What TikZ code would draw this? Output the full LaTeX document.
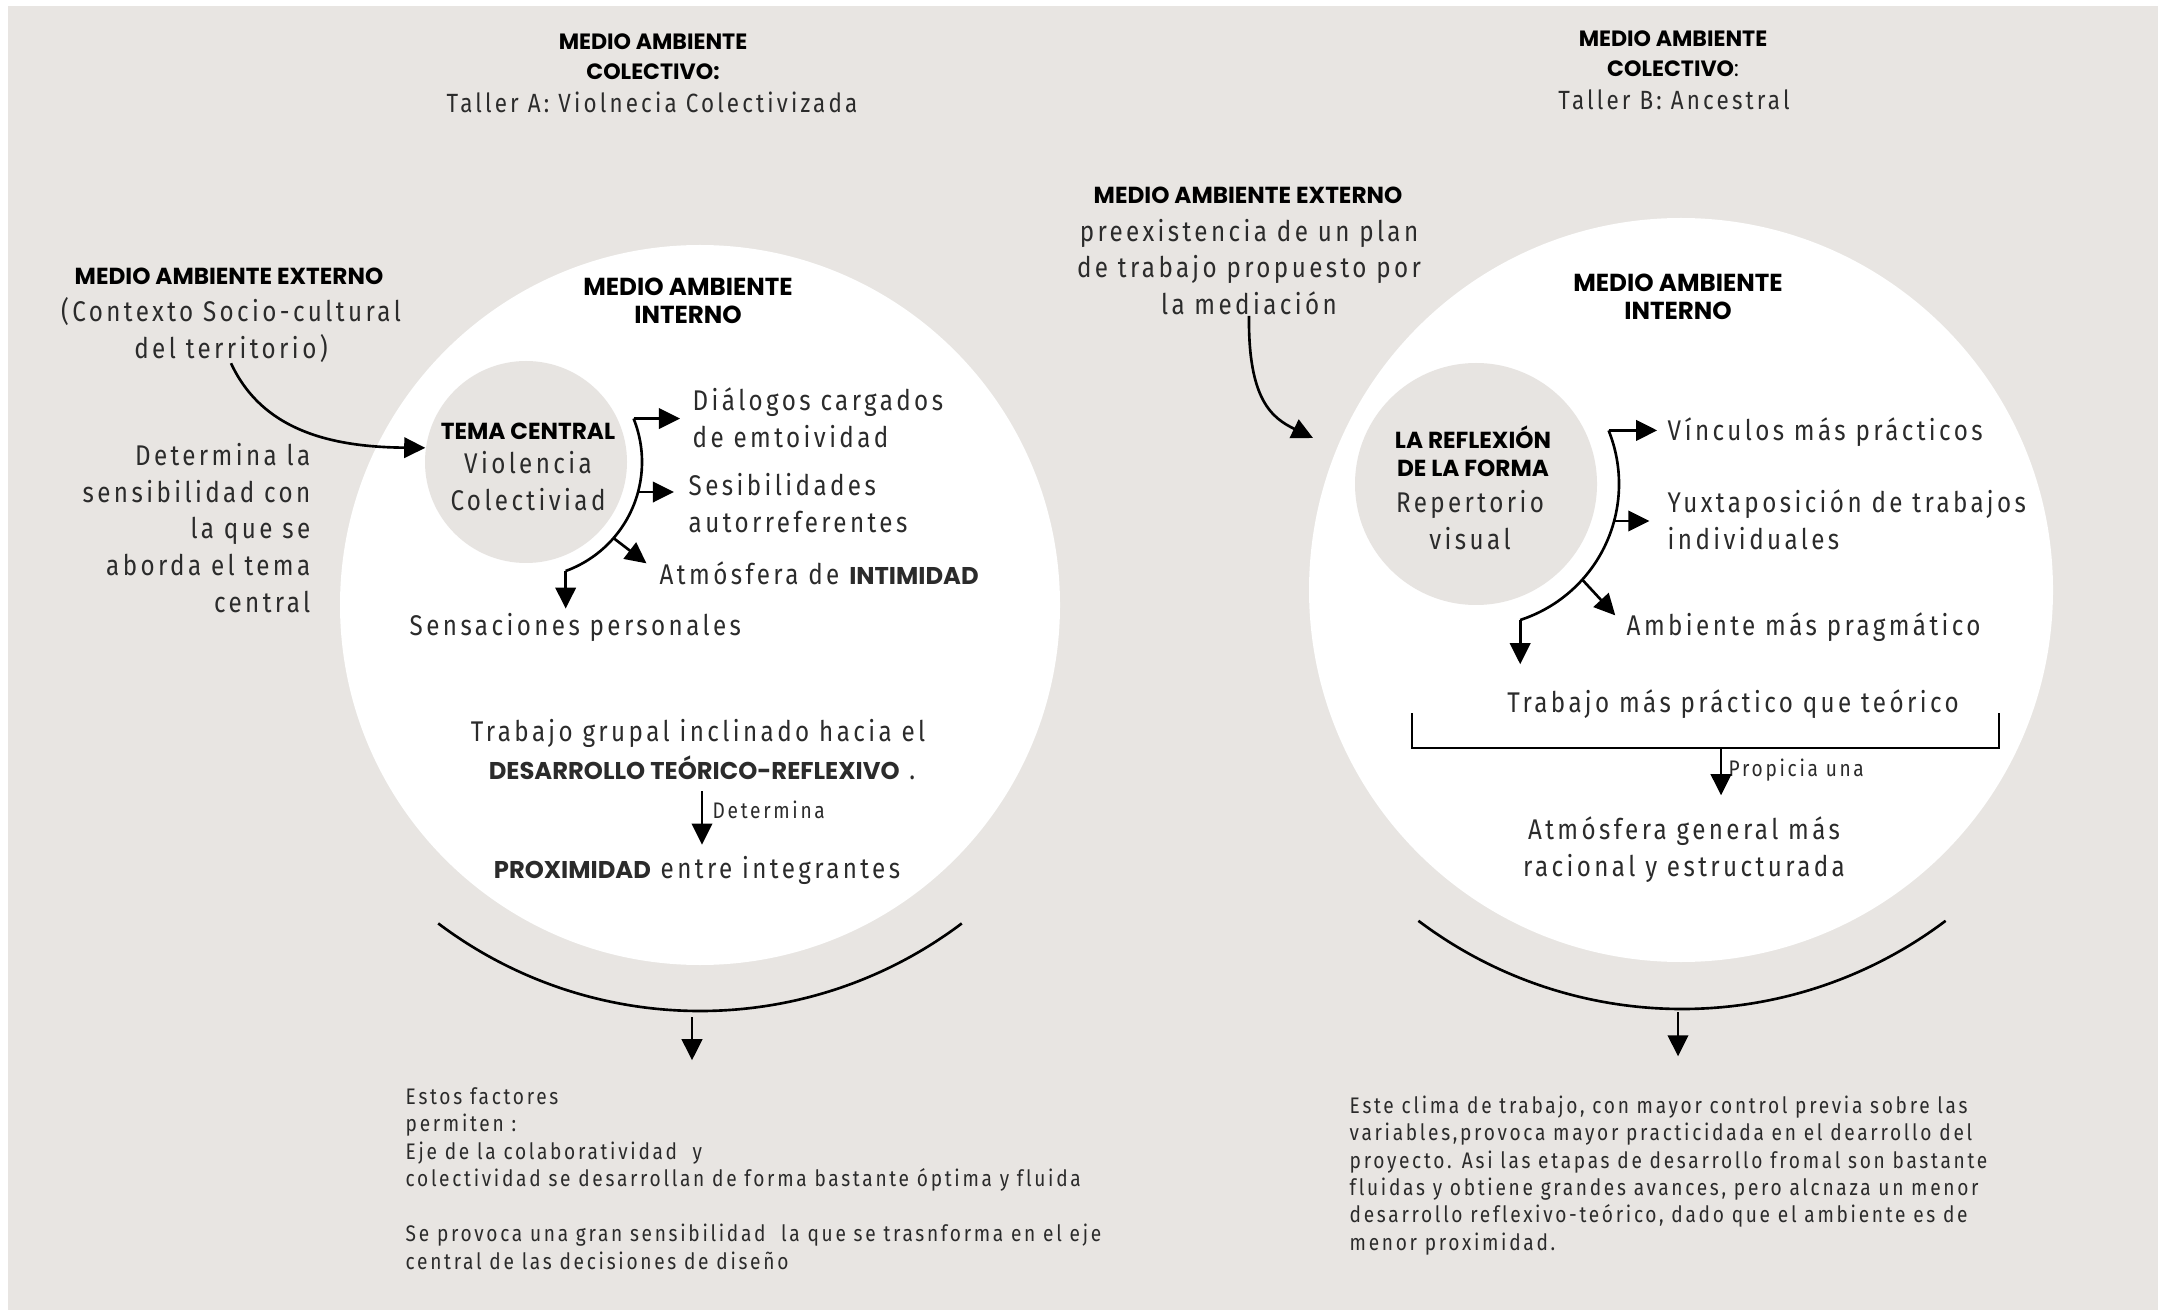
\documentclass[tikz,border=0pt]{standalone}
\usepackage{fontspec}
\setmainfont{Fira Sans}[FakeStretch=0.85, LetterSpace=12, Ligatures=CommonOff]
\newfontfamily\headfont{Poppins}
\usetikzlibrary{arrows.meta, calc}

\definecolor{fondo}{HTML}{E8E5E2}
\definecolor{nucleogris}{HTML}{E7E4E1}
\definecolor{texto}{HTML}{2B2B2B}

\newcommand{\fuerte}[1]{{\headfont\bfseries\fontsize{6.9}{8}\selectfont #1}}

\tikzset{
    cuerpo/.style={font=\fontsize{8.1}{10.5}\selectfont, text=texto, inner sep=0pt},
    taller/.style={font=\fontsize{7.5}{10.5}\selectfont, text=texto, inner sep=0pt},
    nota/.style={font=\fontsize{6.4}{7.8}\selectfont, text=texto, inner sep=0pt, align=left},
    encab/.style={font=\headfont\bfseries\fontsize{6.3}{8.5}\selectfont, inner sep=0pt, align=center},
    encabext/.style={font=\headfont\bfseries\fontsize{6.6}{8.5}\selectfont, inner sep=0pt, align=center},
    encabint/.style={font=\headfont\bfseries\fontsize{7}{8}\selectfont, inner sep=0pt, align=center},
    encabnuc/.style={font=\headfont\bfseries\fontsize{6.6}{8}\selectfont, inner sep=0pt, align=center},
    nucleo/.style={circle, fill=nucleogris, inner sep=0pt},
    linea/.style={line width=0.75pt},
    flecha/.style={line width=0.75pt, -{Triangle[length=6pt, width=5.8pt]}},
}

\begin{document}
\begin{tikzpicture}[x=0.1mm, y=-0.1mm]

    % Fondo
    \useasboundingbox (0,0) rectangle (2158,1310);
    \fill[white] (0,0) rectangle (2158,1310);
    \fill[fondo] (8,6) rectangle (2158,1310);

    % Medio ambiente interno
    \fill[white] (700,605) circle[radius=360];
    \fill[white] (1681,590) circle[radius=372];

    % ---------------- Taller A ----------------
    \node[encab] (tituloA) at (653,57) {MEDIO AMBIENTE\\COLECTIVO:};
    \node[taller] (tallerA) at (652,102) {Taller A: Violnecia Colectivizada};

    \node[encabext] (externoA) at (229,276) {MEDIO AMBIENTE EXTERNO};
    \node[cuerpo, align=center] (contextoA) at (231,330) {(Contexto Socio-cultural\\del territorio)};
    \node[cuerpo, align=right, anchor=east] (determinaA) at (311,528)
        {Determina la\\sensibilidad con\\la que se\\aborda el tema\\central};

    \node[encabint] (internoA) at (688,301) {MEDIO AMBIENTE\\INTERNO};

    % Tema central
    \node[nucleo, minimum size=20.2mm] (nucA) at (526,462) {};
    \node[encabnuc] (temaA) at (528,431) {TEMA CENTRAL};
    \node[cuerpo, align=center] (violenciaA) at (528,481) {Violencia\\Colectiviad};

    \draw[flecha] (contextoA.south) .. controls (262,430) and (330,447) .. (nucA.172);

    % Consecuencias
    \node[cuerpo, align=left, anchor=west] (dialogosA) at (692,418) {Diálogos cargados\\de emtoividad};
    \node[cuerpo, align=left, anchor=west] (sensibA) at (688,503) {Sesibilidades\\autorreferentes};
    \node[cuerpo, anchor=west] (atmosA) at (659,573) {Atmósfera de \fuerte{INTIMIDAD}};
    \node[cuerpo, anchor=west] (sensacA) at (409,627) {Sensaciones personales};

    \coordinate (arcoA1) at ($(nucA.center)+(-22:116)$);
    \coordinate (ramaA2) at ($(nucA.center)+(15:116)$);
    \coordinate (ramaA3) at ($(nucA.center)+(41:116)$);
    \draw[linea] (arcoA1) arc[start angle=-22, end angle=70, radius=116] coordinate (arcoA2);
    \draw[flecha, shorten >=3.4pt] (arcoA1) -- (arcoA1 -| dialogosA.west);
    \draw[flecha, shorten >=4pt] (ramaA2) -- (ramaA2 -| sensibA.west);
    \draw[flecha, shorten >=4.5pt] (ramaA3) -- (atmosA.west);
    \draw[flecha, shorten >=1pt] (arcoA2) -- (arcoA2 |- sensacA.north);

    % Trabajo grupal
    \node[cuerpo] (trabajoA) at (698,733) {Trabajo grupal inclinado hacia el};
    \node[cuerpo] (desarrolloA) at (702,768) {\fuerte{DESARROLLO TEÓRICO-REFLEXIVO} .};
    \node[cuerpo] (proximidadA) at (697,870) {\fuerte{PROXIMIDAD} entre integrantes};
    \draw[flecha, shorten <=3pt, shorten >=3pt] (desarrolloA.south) -- (desarrolloA.south |- proximidadA.north);
    \node[nota, anchor=west] (lblDetA) at (712,810) {Determina};

    % Cierre
    \draw[linea] (700,576) ++(127:435) arc[start angle=127, end angle=53, radius=435];
    \coordinate (salidaA) at (692,1017);
    \node[nota, anchor=north west] (conclusionA) at (405,1087) {Estos factores\\
        permiten :\\
        Eje de la colaboratividad \ y\\
        colectividad se desarrollan de forma bastante óptima y fluida\\[7.8pt]
        Se provoca una gran sensibilidad \ la que se trasnforma en el eje\\
        central de las decisiones de diseño};
    \draw[flecha, shorten >=7.6pt] (salidaA) -- (salidaA |- conclusionA.north);

    % ---------------- Taller B ----------------
    \node[encab] (tituloB) at (1673,54) {MEDIO AMBIENTE\\COLECTIVO{\mdseries:}};
    \node[taller] (tallerB) at (1674,100) {Taller B: Ancestral};

    \node[encabext] (externoB) at (1248,195) {MEDIO AMBIENTE EXTERNO};
    \node[cuerpo, align=center] (planB) at (1249,267)
        {preexistencia de un plan\\de trabajo propuesto por\\la mediación};

    \node[encabint] (internoB) at (1678,297) {MEDIO AMBIENTE\\INTERNO};

    % Reflexion de la forma
    \node[nucleo, minimum size=24.2mm] (nucB) at (1476,484) {};
    \node[encabnuc] (reflexionB) at (1473,451) {LA REFLEXIÓN\\DE LA FORMA};
    \node[cuerpo, align=center] (repertorioB) at (1470,520) {Repertorio\\visual};

    \coordinate (entradaB) at (1313,438);
    \draw[flecha] (planB.south) .. controls (1248,400) and (1272,418) .. (entradaB);

    % Consecuencias
    \node[cuerpo, anchor=west] (vinculosB) at (1667,432) {Vínculos más prácticos};
    \node[cuerpo, align=left, anchor=west] (yuxtaB) at (1667,520) {Yuxtaposición de trabajos\\individuales};
    \node[cuerpo, anchor=west] (ambienteB) at (1626,627) {Ambiente más pragmático};
    \node[cuerpo] (practicoB) at (1733,704) {Trabajo más práctico que teórico};

    \coordinate (arcoB1) at ($(nucB.center)+(-22:143)$);
    \coordinate (ramaB2) at ($(nucB.center)+(15:143)$);
    \coordinate (ramaB3) at ($(nucB.center)+(42:143)$);
    \draw[linea] (arcoB1) arc[start angle=-22, end angle=72, radius=143] coordinate (arcoB2);
    \draw[flecha, shorten >=2.8pt] (arcoB1) -- (arcoB1 -| vinculosB.west);
    \draw[flecha, shorten >=5pt] (ramaB2) -- (ramaB2 -| yuxtaB.west);
    \draw[flecha, shorten >=4.5pt] (ramaB3) -- (ambienteB.west);
    \draw[flecha, shorten >=7pt] (arcoB2) -- (arcoB2 |- practicoB.north);

    % Llave
    \draw[linea] (1412,713) |- (1999,748) -- (1999,713);
    \coordinate (llaveB) at (1721,748);
    \node[nota, anchor=west] (lblPropB) at (1728,770) {Propicia una};
    \node[cuerpo, align=center] (atmosGenB) at (1684,850) {Atmósfera general más\\racional y estructurada};
    \draw[flecha, shorten >=6pt] (llaveB) -- (llaveB |- atmosGenB.north);

    % Cierre
    \draw[linea] (1682,571) ++(127:438) arc[start angle=127, end angle=53, radius=438];
    \coordinate (salidaB) at (1678,1012);
    \node[nota, anchor=north west] (conclusionB) at (1349,1095)
        {Este clima de trabajo, con mayor control previa sobre las\\
        variables,provoca mayor practicidada en el dearrollo del\\
        proyecto. Asi las etapas de desarrollo fromal son bastante\\
        fluidas y obtiene grandes avances, pero alcnaza un menor\\
        desarrollo reflexivo-teórico, dado que el ambiente es de\\
        menor proximidad.};
    \draw[flecha, shorten >=11pt] (salidaB) -- (salidaB |- conclusionB.north);

\end{tikzpicture}
\end{document}
